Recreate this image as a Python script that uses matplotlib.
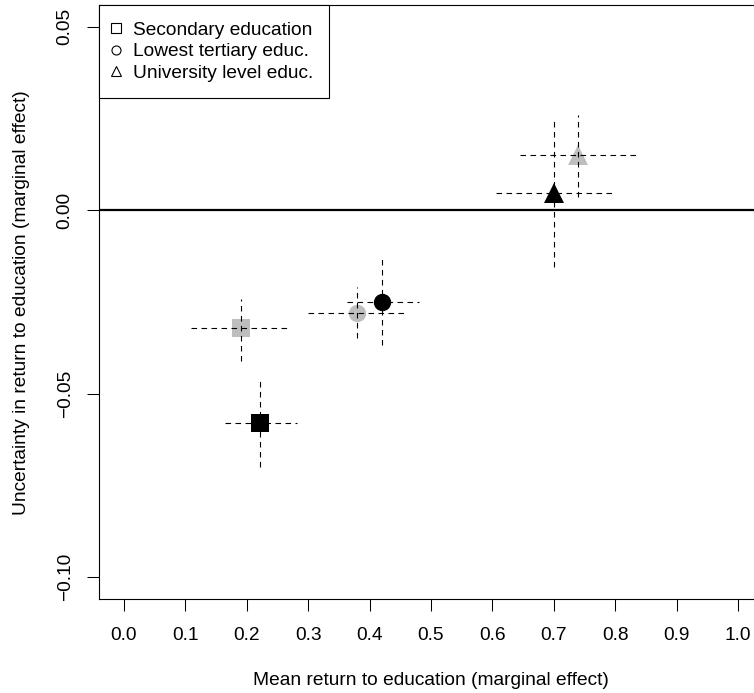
import matplotlib
matplotlib.use('Agg')
import matplotlib.pyplot as plt
from matplotlib.lines import Line2D

plt.rcParams['font.family'] = ['Liberation Sans', 'DejaVu Sans']

# education levels and their marker shapes
levels = ['Secondary education', 'Lowest tertiary educ.', 'University level educ.']
markers = ['s', 'o', '^']
marker_sizes = [13, 12.5, 15]

# grey group: mean return (x) and uncertainty (y) with interval ends
grey_x = [0.191, 0.380, 0.740]
grey_y = [-0.0320, -0.0281, 0.0150]
grey_x_lo = [0.110, 0.299, 0.645]
grey_x_hi = [0.271, 0.461, 0.841]
grey_y_lo = [-0.0411, -0.0349, 0.0037]
grey_y_hi = [-0.0242, -0.0210, 0.0259]

# black group
black_x = [0.221, 0.420, 0.700]
black_y = [-0.0580, -0.0249, 0.0048]
black_x_lo = [0.164, 0.364, 0.606]
black_x_hi = [0.282, 0.481, 0.801]
black_y_lo = [-0.0699, -0.0367, -0.0154]
black_y_hi = [-0.0457, -0.0127, 0.0250]

x_ticks = [0.0, 0.1, 0.2, 0.3, 0.4, 0.5, 0.6, 0.7, 0.8, 0.9, 1.0]
x_tick_labels = ['0.0', '0.1', '0.2', '0.3', '0.4', '0.5', '0.6', '0.7', '0.8', '0.9', '1.0']
y_ticks = [-0.10, -0.05, 0.00, 0.05]
y_tick_labels = ['\u22120.10', '\u22120.05', '0.00', '0.05']

fs = 13.8

fig = plt.figure(figsize=(7.54, 6.93), dpi=100)
ax = fig.add_axes([0.1317, 0.1352, 0.8798, 0.8576])

dash = (0, (5, 4))
groups = [
    ('#bebebe', grey_x, grey_y, grey_x_lo, grey_x_hi, grey_y_lo, grey_y_hi),
    ('black', black_x, black_y, black_x_lo, black_x_hi, black_y_lo, black_y_hi),
]
for col, xs, ys, xlo, xhi, ylo, yhi in groups:
    for i in range(len(levels)):
        ax.plot(xs[i], ys[i], marker=markers[i], ms=marker_sizes[i], color=col,
                markeredgewidth=0, linestyle='none', zorder=2)
    ax.hlines(ys, xlo, xhi, colors='black', linestyles=dash, linewidth=0.8, zorder=3)
    ax.vlines(xs, ylo, yhi, colors='black', linestyles=dash, linewidth=0.8, zorder=3)

ax.axhline(0, color='black', linewidth=1.6, zorder=1)

ax.set_xlim(-0.04, 1.04)
ax.set_ylim(-0.106, 0.0559)
ax.set_xticks(x_ticks)
ax.set_xticklabels(x_tick_labels)
ax.set_yticks(y_ticks)
ax.set_yticklabels(y_tick_labels)
ax.tick_params(axis='both', length=8.6, width=0.75, labelsize=fs)
ax.tick_params(axis='x', pad=11.2)
ax.tick_params(axis='y', pad=9.8, labelrotation=90)
for lab in ax.get_yticklabels():
    lab.set_va('center')
for sp in ax.spines.values():
    sp.set_linewidth(0.8)

ax.set_xlabel('Mean return to education (marginal effect)', fontsize=fs, va='center')
ax.xaxis.set_label_coords(0.5, -0.1358)
ax.set_ylabel('Uncertainty in return to education (marginal effect)', fontsize=fs, va='center')
ax.yaxis.set_label_coords(-0.118, 0.5)

handles = [Line2D([], [], marker=m, ms=6.5, markerfacecolor='none', markeredgecolor='black',
                  markeredgewidth=0.8, linestyle='none') for m in markers]
leg = ax.legend(handles, levels, loc='upper left', bbox_to_anchor=(0, 1), borderaxespad=0,
                fontsize=fs, frameon=True, fancybox=False, edgecolor='black', framealpha=1,
                borderpad=0.85, handlelength=0.0, handletextpad=0.9, labelspacing=0.22)
leg.get_frame().set_linewidth(0.8)

plt.savefig('out.png', dpi=100)
